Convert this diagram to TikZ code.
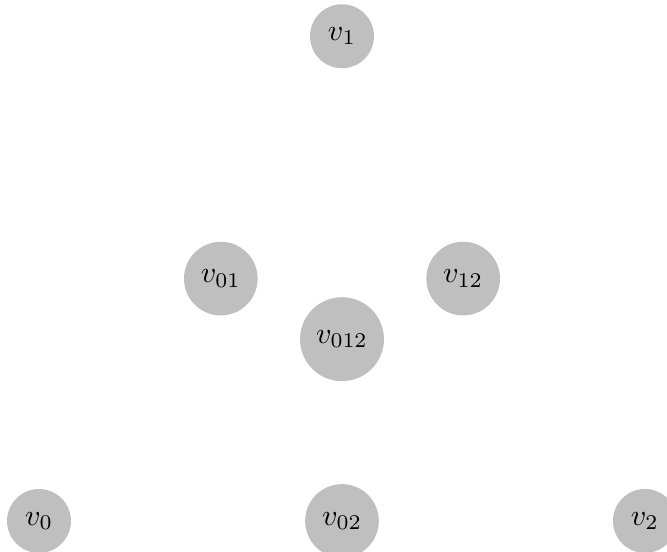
\documentclass[tikz,border=0pt]{standalone}
\begin{document}
\begin{tikzpicture}[x=40.4pt,y=40.4pt,
  vert/.style={circle,fill=black!25,inner sep=3.7pt}]
\useasboundingbox (-0.322,-0.248) rectangle (5.182,4.299);
\node[vert] (v0) at (0,0) {$v_0$};
\node[vert] (v2) at (5,0) {$v_2$};
\node[vert] (v1) at (2.5,4) {$v_1$};
\node[vert] (v01) at (1.5,2) {$v_{01}$};
\node[vert] (v12) at (3.5,2) {$v_{12}$};
\node[vert] (v02) at (2.5,0) {$v_{02}$};
\node[vert] (v012) at (2.5,1.5) {$v_{012}$};
\end{tikzpicture}
\end{document}
